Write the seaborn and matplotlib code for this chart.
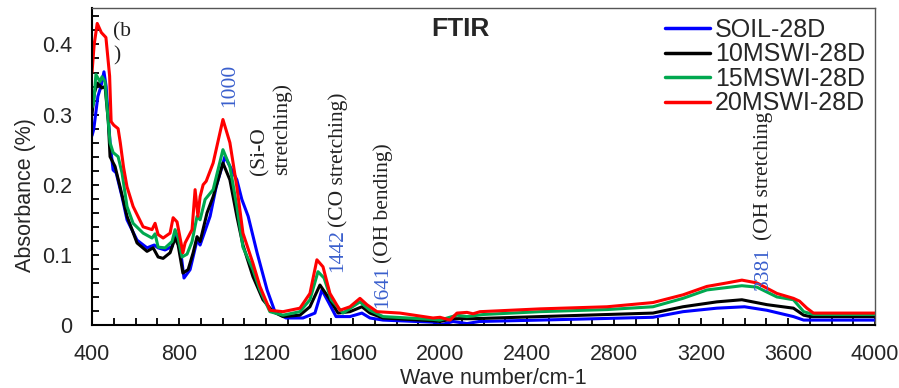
import numpy as np
import pandas as pd
import matplotlib
matplotlib.use("Agg")
import matplotlib.pyplot as plt
from matplotlib.ticker import MultipleLocator
import seaborn as sns

# ---------------- data ----------------
series_names = ["SOIL-28D", "10MSWI-28D", "15MSWI-28D", "20MSWI-28D"]
series_colors = ["#0000ff", "#000000", "#00a84f", "#ff0000"]

soil_wn = [400, 408, 427, 441, 455, 465, 483, 497, 511, 538, 561, 607, 653, 686, 704, 736, 768, 782,
           805, 823, 851, 883, 897, 943, 971, 1011, 1043, 1066, 1089, 1118, 1159, 1205, 1241, 1292,
           1370, 1425, 1457, 1490, 1522, 1586, 1641, 1678, 1738, 1968, 2000, 2060, 2124, 2180, 2460,
           2979, 3117, 3273, 3400, 3503, 3625, 3672, 4000]
soil_abs = [0.27, 0.279, 0.326, 0.34, 0.361, 0.34, 0.26, 0.221, 0.217, 0.183, 0.15, 0.121, 0.11, 0.114,
            0.11, 0.107, 0.112, 0.131, 0.112, 0.067, 0.079, 0.121, 0.114, 0.155, 0.197, 0.24, 0.221,
            0.207, 0.179, 0.155, 0.103, 0.05, 0.019, 0.010, 0.010, 0.017, 0.05, 0.031, 0.012, 0.012,
            0.017, 0.010, 0.007, 0.004, 0.0, 0.005, 0.002, 0.005, 0.007, 0.011, 0.019, 0.024, 0.026,
            0.021, 0.012, 0.007, 0.007]

m10_wn = [400, 410, 425, 445, 460, 475, 483, 506, 529, 561, 607, 653, 681, 704, 727, 759, 782, 796,
          818, 842, 865, 883, 897, 929, 957, 1002, 1034, 1066, 1094, 1140, 1186, 1232, 1278, 1356,
          1402, 1448, 1490, 1531, 1586, 1641, 1678, 1738, 1968, 2000, 2060, 2152, 2460, 2979, 3117,
          3273, 3388, 3503, 3625, 3672, 3703, 4000]
m10_abs = [0.30, 0.33, 0.345, 0.338, 0.34, 0.29, 0.24, 0.226, 0.197, 0.155, 0.117, 0.105, 0.11, 0.097,
           0.095, 0.103, 0.124, 0.114, 0.074, 0.079, 0.103, 0.126, 0.119, 0.16, 0.183, 0.231, 0.207,
           0.155, 0.114, 0.069, 0.036, 0.019, 0.012, 0.014, 0.026, 0.057, 0.038, 0.017, 0.019, 0.026,
           0.017, 0.010, 0.006, 0.005, 0.009, 0.009, 0.012, 0.017, 0.026, 0.033, 0.036, 0.029, 0.024,
           0.014, 0.012, 0.012]

m15_wn = [400, 408, 418, 437, 446, 460, 474, 483, 497, 520, 538, 561, 589, 635, 676, 690, 704, 736,
          768, 782, 796, 814, 837, 860, 883, 897, 920, 957, 1002, 1034, 1066, 1094, 1140, 1172, 1218,
          1278, 1356, 1402, 1439, 1467, 1500, 1554, 1632, 1678, 1738, 1968, 2000, 2078, 2124, 2200,
          2460, 2768, 2979, 3117, 3227, 3388, 3457, 3549, 3625, 3672, 3717, 4000]
m15_abs = [0.31, 0.317, 0.357, 0.347, 0.354, 0.347, 0.293, 0.26, 0.246, 0.24, 0.217, 0.169, 0.145,
           0.131, 0.124, 0.13, 0.111, 0.11, 0.119, 0.136, 0.124, 0.097, 0.101, 0.119, 0.155, 0.15,
           0.179, 0.193, 0.25, 0.226, 0.169, 0.111, 0.079, 0.05, 0.019, 0.014, 0.019, 0.036, 0.076,
           0.067, 0.036, 0.017, 0.033, 0.021, 0.012, 0.008, 0.007, 0.014, 0.012, 0.015, 0.019, 0.022,
           0.026, 0.038, 0.05, 0.056, 0.054, 0.04, 0.036, 0.019, 0.015, 0.015]

m20_wn = [400, 410, 424, 443, 464, 481, 488, 500, 520, 530, 545, 561, 589, 635, 676, 690, 704, 727,
          759, 773, 791, 818, 828, 860, 874, 887, 897, 911, 925, 957, 1002, 1034, 1066, 1094, 1140,
          1172, 1218, 1278, 1356, 1402, 1434, 1462, 1494, 1540, 1586, 1632, 1664, 1710, 1816, 1968,
          2000, 2046, 2078, 2124, 2152, 2184, 2460, 2768, 2979, 3117, 3227, 3319, 3388, 3457, 3549,
          3625, 3653, 3687, 3717, 4000]
m20_abs = [0.36, 0.40, 0.43, 0.417, 0.41, 0.355, 0.29, 0.285, 0.28, 0.26, 0.225, 0.197, 0.169, 0.14,
           0.136, 0.145, 0.129, 0.124, 0.131, 0.153, 0.147, 0.103, 0.117, 0.136, 0.193, 0.155, 0.183,
           0.2, 0.205, 0.231, 0.293, 0.26, 0.197, 0.131, 0.088, 0.055, 0.021, 0.019, 0.024, 0.045,
           0.093, 0.083, 0.045, 0.021, 0.026, 0.038, 0.029, 0.019, 0.017, 0.010, 0.011, 0.007, 0.017,
           0.018, 0.016, 0.019, 0.023, 0.026, 0.032, 0.043, 0.055, 0.06, 0.064, 0.06, 0.045, 0.038,
           0.034, 0.024, 0.017, 0.017]

# peak annotations: number label (blue) and assignment text
peak_num = ["1442", "1641", "3381"]
peak_num_y = [0.0757, 0.024, 0.050]
peak_txt = ["(CO stretching)", "(OH bending)", "(OH stretching"]
peak_txt_y = [0.140, 0.089, 0.121]
peak_x = [1531, 1738, 3485]

x_ticks = [400, 800, 1200, 1600, 2000, 2400, 2800, 3200, 3600, 4000]
y_ticks = [0, 0.1, 0.2, 0.3, 0.4]

# ---------------- figure ----------------
sns.set_style("ticks")
plt.rcParams["font.family"] = ["Liberation Sans", "DejaVu Sans"]

fig = plt.figure(figsize=(8.99, 3.88), dpi=100)
ax = fig.add_axes([92 / 899, 1 - 325 / 388, (875 - 92) / 899, (325 - 8) / 388])

wns = [soil_wn, m10_wn, m15_wn, m20_wn]
abss = [soil_abs, m10_abs, m15_abs, m20_abs]
for name, col, wn, ab in zip(series_names, series_colors, wns, abss):
    df = pd.DataFrame({"wn": wn, "abs": ab})
    sns.lineplot(data=df, x="wn", y="abs", ax=ax, color=col, lw=2.2, label=name)

ax.set_xlim(400, 4000)
ax.set_ylim(0, 0.452)
ax.set_xticks(x_ticks)
ax.set_xticklabels([str(t) for t in x_ticks])
ax.set_yticks(y_ticks)
ax.set_yticklabels(["0", "0.1", "0.2", "0.3", "0.4"])
ax.xaxis.set_minor_locator(MultipleLocator(100))
ax.yaxis.set_minor_locator(MultipleLocator(0.02))
ax.tick_params(which="both", direction="in", length=5, width=1.3, top=False, right=False,
               color="black")
ax.tick_params(axis="x", which="major", labelsize=15.5, pad=14)
ax.tick_params(axis="y", which="major", labelsize=15.5, pad=14)

for s in ["left", "bottom"]:
    ax.spines[s].set_linewidth(1.5)
    ax.spines[s].set_color("black")
for s in ["top", "right"]:
    ax.spines[s].set_linewidth(1.0)
    ax.spines[s].set_color("#555555")

ax.set_xlabel("Wave number/cm-1", fontsize=15.5)
ax.set_ylabel("Absorbance (%)", fontsize=15.5)
ax.xaxis.set_label_coords(0.513, -0.135)
ax.yaxis.set_label_coords(-0.072, 0.41)

leg = ax.legend(loc="upper right", bbox_to_anchor=(0.987, 0.969), frameon=False, fontsize=18,
                handlelength=1.8, handletextpad=0.2, labelspacing=0.02, borderpad=0.0,
                borderaxespad=0.0)
for h in leg.get_lines():
    h.set_linewidth(2.5)

serif = ["Liberation Serif", "DejaVu Serif"]
blue_txt = "#3a5fcd"
ax.text(0.471, 0.934, "FTIR", transform=ax.transAxes, fontsize=19, fontweight="bold",
        ha="center", va="center")
ax.text(497, 0.432, "(b\n)", fontsize=15.5, family=serif, ha="left", va="top",
        linespacing=1.35, color="#222222")
ax.text(1035, 0.341, "1000", fontsize=15.5, family=serif, color=blue_txt, rotation=90,
        ha="center", va="center")
ax.text(1223, 0.214, "(Si-O\nstretching)", fontsize=15.5, family=serif, rotation=90,
        ha="center", va="bottom", multialignment="left", linespacing=1.2, color="#222222")
for xp, num, ny, txt, ty in zip(peak_x, peak_num, peak_num_y, peak_txt, peak_txt_y):
    ax.text(xp, ny, num, fontsize=15.5, family=serif, color=blue_txt, rotation=90,
            ha="center", va="bottom")
    ax.text(xp, ty, txt, fontsize=15.5, family=serif, color="#222222", rotation=90,
            ha="center", va="bottom")

fig.savefig("out.png", dpi=100)
